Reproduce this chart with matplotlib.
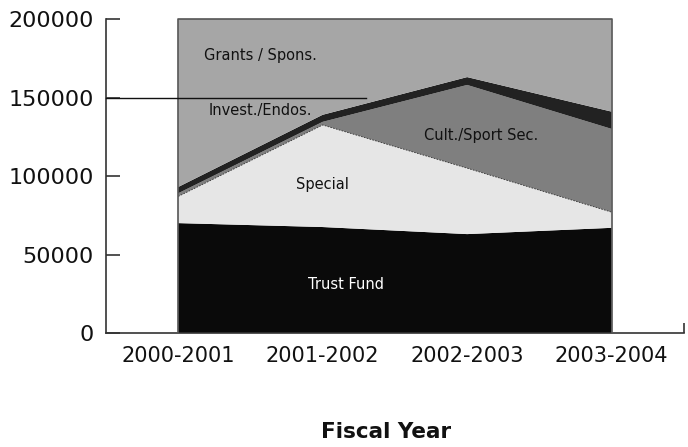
import numpy as np
import matplotlib.pyplot as plt

# fiscal years and funding by source
years = ['2000-2001', '2001-2002', '2002-2003', '2003-2004']
trust_fund = [70000, 67500, 63000, 67000]
special = [17000, 65000, 42000, 10000]
cult_sport = [2000, 2000, 53000, 53000]
invest_endos = [4000, 4500, 5000, 11000]
grants_spons = [107000, 61000, 37000, 59000]

layer_names = ['Trust Fund', 'Special', 'Cult./Sport Sec.', 'Invest./Endos.', 'Grants / Spons.']
layer_colors = ['#0a0a0a', '#e6e6e6', '#7f7f7f', '#222222', '#a6a6a6']

# stray reference line at 150000
ref_level = 150000
ref_x_end = 1.3

plt.rcParams['font.family'] = ['DejaVu Sans']

fig = plt.figure(figsize=(6.88, 4.47), dpi=100)
ax = fig.add_axes([0.154, 0.255, 0.84, 0.7025])

x = np.arange(len(years))
layers = [trust_fund, special, cult_sport, invest_endos, grants_spons]
ax.stackplot(x, *layers, colors=layer_colors, linewidth=0)

# dashed edge on top of the "Special" layer
special_top = np.array(trust_fund) + np.array(special)
ax.plot(x, special_top, color='#333333', lw=0.6, ls=(0, (2, 1.5)))

# border round the filled block
total = np.sum(layers, axis=0)
ax.plot([x[0], x[0], x[-1], x[-1]], [0, total[0], total[-1], 0],
        color='#555555', lw=1.2, clip_on=False, zorder=3)

ax.plot([-0.5, ref_x_end], [ref_level, ref_level], color='#111111', lw=1.0,
        clip_on=False, zorder=4)

# layer labels
label_kw = dict(ha='center', va='center', fontsize=10.5, fontweight='medium')
ax.text(0.57, 177000, 'Grants / Spons.', color='#111111', **label_kw)
ax.text(0.57, 142000, 'Invest./Endos.', color='#111111', **label_kw)
ax.text(1.0, 94300, 'Special', color='#111111', **label_kw)
ax.text(2.1, 126000, 'Cult./Sport Sec.', color='#111111', **label_kw)
ax.text(1.16, 30600, 'Trust Fund', color='white', **label_kw)

ax.set_xlim(-0.5, 3.5)
ax.set_ylim(0, 200000)
ax.set_xticks(x)
ax.set_xticklabels(years)
ax.set_xticks([3.5], minor=True)
ax.set_yticks([0, 50000, 100000, 150000, 200000])

ax.tick_params(axis='x', which='major', length=0, pad=9, labelsize=15, labelcolor='#111111')
ax.tick_params(axis='x', which='minor', direction='in', length=7, width=1.2, color='#333333')
ax.tick_params(axis='y', direction='in', length=10, width=1.2, pad=9, labelsize=16,
               labelcolor='#111111', color='#333333')

for side in ['top', 'right']:
    ax.spines[side].set_visible(False)
for side in ['left', 'bottom']:
    ax.spines[side].set_color('#333333')
    ax.spines[side].set_linewidth(1.2)

ax.set_xlabel('Fiscal Year', fontsize=15.5, fontweight='bold', labelpad=41, color='#111111')
ax.xaxis.label.set_x(0.484)

fig.savefig('out.png', dpi=100)
